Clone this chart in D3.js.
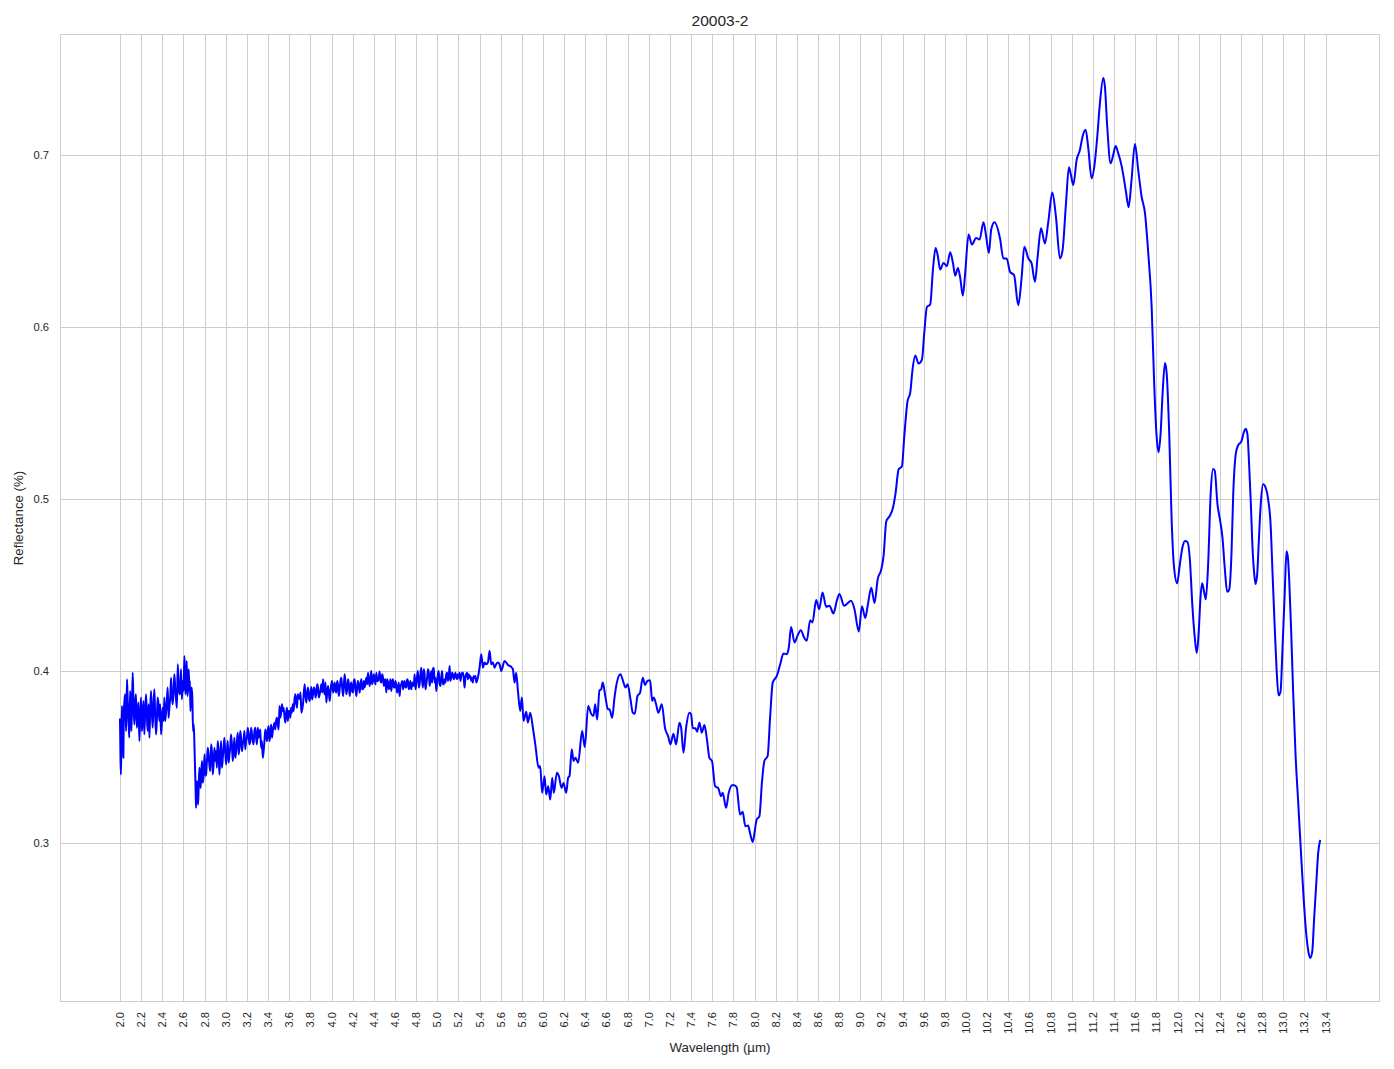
<!DOCTYPE html>
<html><head><meta charset="utf-8">
<script src="https://cdn.jsdelivr.net/npm/d3@7"></script>
<style>
body{margin:0;background:#fff}
text{font-family:"Liberation Sans",Arial,sans-serif;fill:#262626}
</style>
</head><body>
<svg id="chart" width="1394" height="1069"></svg>
<script>
const chartTitle = "20003-2";
const xLabel = "Wavelength (µm)";
const yLabel = "Reflectance (%)";
const xTicks = [2.0,2.2,2.4,2.6,2.8,3.0,3.2,3.4,3.6,3.8,4.0,4.2,4.4,4.6,4.8,5.0,5.2,5.4,5.6,5.8,6.0,6.2,6.4,6.6,6.8,7.0,7.2,7.4,7.6,7.8,8.0,8.2,8.4,8.6,8.8,9.0,9.2,9.4,9.6,9.8,10.0,10.2,10.4,10.6,10.8,11.0,11.2,11.4,11.6,11.8,12.0,12.2,12.4,12.6,12.8,13.0,13.2,13.4];
const yTicks = [0.3,0.4,0.5,0.6,0.7];

// [wavelength µm, reflectance]
const spectrumNoisyA = [
[2.000,0.3718],[2.005,0.3476],[2.009,0.3398],[2.019,0.3796],[2.032,0.3495],[2.041,0.3816],[2.057,0.3650],[2.066,0.3951],
[2.082,0.3690],[2.095,0.3883],[2.107,0.3650],[2.120,0.3990],[2.136,0.3689],[2.151,0.3864],[2.167,0.3748],[2.183,0.3592],
[2.199,0.3845],[2.215,0.3728],[2.230,0.3631],[2.246,0.3864],[2.262,0.3650],[2.278,0.3612],[2.293,0.3883],[2.309,0.3670],
[2.325,0.3893],[2.341,0.3631],[2.356,0.3845],[2.372,0.3709],[2.388,0.3631],[2.404,0.3786],[2.420,0.3845],[2.435,0.3757],
[2.451,0.3903],[2.467,0.3786],[2.483,0.3961],[2.498,0.3806],[2.514,0.3981],[2.530,0.3835],[2.546,0.4039],[2.562,0.3864],
[2.577,0.4010],[2.593,0.3942],[2.609,0.4087],[2.618,0.3864],[2.631,0.4058],[2.644,0.3903],[2.656,0.3883],[2.666,0.3767],
[2.678,0.3903],[2.691,0.3650],[2.703,0.3592],[2.713,0.3359],[2.719,0.3204],[2.729,0.3359],[2.738,0.3223],[2.751,0.3437],
[2.763,0.3320],[2.776,0.3476],[2.789,0.3379],[2.801,0.3515],[2.814,0.3398],[2.830,0.3553],[2.845,0.3456],[2.861,0.3573],
[2.877,0.3398],[2.893,0.3553],[2.909,0.3534],[2.924,0.3592],[2.940,0.3398],[2.956,0.3592],[2.972,0.3495],[2.987,0.3612],
[3.003,0.3456],[3.019,0.3592],[3.035,0.3515],[3.050,0.3631],[3.066,0.3476],[3.082,0.3612],[3.098,0.3534],[3.114,0.3641],
[3.129,0.3553],[3.145,0.3612],[3.161,0.3573],[3.177,0.3650],[3.192,0.3592],[3.208,0.3670],[3.224,0.3573],[3.240,0.3670],
[3.256,0.3592],[3.271,0.3650],[3.287,0.3612],[3.303,0.3670],[3.319,0.3631],[3.334,0.3553],[3.350,0.3495],[3.366,0.3592],
[3.382,0.3631],[3.397,0.3650],[3.413,0.3592],[3.429,0.3689],[3.445,0.3650],[3.461,0.3699],[3.476,0.3709],[3.492,0.3689],
[3.508,0.3796],[3.524,0.3757],[3.539,0.3767],[3.555,0.3738],[3.571,0.3748],[3.587,0.3709],[3.603,0.3767],[3.618,0.3786],
[3.634,0.3806],[3.650,0.3835],[3.666,0.3816],[3.681,0.3864]
];
// extra in-between samples of the noisy band, 2.0–3.7 µm
const spectrumNoisyAFine = [
[2.014,0.3612],[2.025,0.3650],[2.036,0.3757],[2.049,0.3864],[2.061,0.3738],[2.074,0.3806],[2.088,0.3612],[2.101,0.3835],
[2.113,0.3767],[2.128,0.3796],[2.143,0.3816],[2.159,0.3670],[2.175,0.3816],[2.191,0.3728],[2.207,0.3650],[2.222,0.3825],
[2.238,0.3767],[2.254,0.3738],[2.270,0.3806],[2.285,0.3748],[2.301,0.3767],[2.317,0.3806],[2.333,0.3738],[2.348,0.3709],
[2.364,0.3806],[2.380,0.3806],[2.396,0.3699],[2.412,0.3709],[2.427,0.3709],[2.443,0.3825],[2.459,0.3728],[2.475,0.3845],
[2.490,0.3864],[2.506,0.3874],[2.522,0.3903],[2.538,0.3786],[2.554,0.3932],[2.569,0.3883],[2.585,0.3835],[2.601,0.3883],
[2.614,0.3990],[2.625,0.3922],[2.637,0.3854],[2.650,0.4010],[2.661,0.3942],[2.672,0.3864],[2.684,0.3845],[2.697,0.3690],
[2.708,0.3470],[2.716,0.3280],[2.724,0.3330],[2.733,0.3300],[2.744,0.3320],[2.757,0.3380],[2.769,0.3418],[2.782,0.3350],
[2.795,0.3460],[2.807,0.3390],[2.822,0.3476],[2.837,0.3515],[2.853,0.3418],[2.869,0.3534],[2.885,0.3456],[2.901,0.3476],
[2.916,0.3437],[2.932,0.3534],[2.948,0.3495],[2.964,0.3437],[2.980,0.3553],[2.995,0.3534],[3.011,0.3524],[3.027,0.3466],
[3.042,0.3553],[3.058,0.3573],[3.074,0.3534],[3.090,0.3495],[3.106,0.3592],[3.121,0.3515],[3.137,0.3650],[3.153,0.3534],
[3.169,0.3602],[3.184,0.3544],[3.200,0.3612],[3.216,0.3631],[3.232,0.3592],[3.248,0.3631],[3.263,0.3573],[3.279,0.3670],
[3.295,0.3573],[3.311,0.3612],[3.326,0.3660],[3.342,0.3592],[3.358,0.3534],[3.374,0.3660],[3.390,0.3592],[3.405,0.3680],
[3.421,0.3631],[3.437,0.3612],[3.453,0.3680],[3.468,0.3660],[3.484,0.3728],[3.500,0.3660],[3.516,0.3728],[3.531,0.3806],
[3.547,0.3786],[3.563,0.3699],[3.579,0.3786],[3.595,0.3767],[3.611,0.3728],[3.626,0.3757],[3.642,0.3767],[3.658,0.3864],
[3.674,0.3786]
];

const spectrumNoisyB = [
[3.699,0.3835],[3.715,0.3757],[3.746,0.3922],[3.762,0.3816],[3.778,0.3903],[3.794,0.3825],[3.809,0.3907],[3.825,0.3864],
[3.841,0.3893],[3.857,0.3874],[3.872,0.3903],[3.888,0.3864],[3.904,0.3922],[3.920,0.3951],[3.935,0.3864],[3.951,0.3816],
[3.967,0.3913],[3.983,0.3825],[3.998,0.3922],[4.014,0.3874],[4.030,0.3932],[4.046,0.3874],[4.061,0.3922],[4.077,0.3893],
[4.093,0.3961],[4.109,0.3854],[4.124,0.3981],[4.140,0.3864],[4.156,0.3951],[4.172,0.3854],[4.187,0.3932],[4.203,0.3874],
[4.219,0.3951],[4.235,0.3854],[4.250,0.3942],[4.266,0.3874],[4.282,0.3951],[4.298,0.3893],[4.313,0.3903],[4.329,0.3961],
[4.345,0.3990],[4.361,0.3913],[4.376,0.4000],[4.392,0.3942],[4.408,0.3951],[4.424,0.3990],[4.439,0.3942],[4.455,0.3996],
[4.471,0.3932],[4.487,0.3961],[4.502,0.3942],[4.518,0.3874],[4.534,0.3932],[4.550,0.3922],[4.565,0.3883],[4.581,0.3951],
[4.597,0.3903],[4.613,0.3913],[4.628,0.3893],[4.644,0.3854],[4.660,0.3922],[4.676,0.3893],[4.691,0.3942],[4.707,0.3903],
[4.723,0.3942],[4.739,0.3913],[4.754,0.3893],[4.770,0.3932],[4.786,0.3981],[4.802,0.3932],[4.817,0.4000],[4.833,0.3922],
[4.849,0.4019],[4.865,0.3903],[4.880,0.3981],[4.896,0.3922],[4.912,0.4010],[4.928,0.3913],[4.943,0.4000],[4.959,0.4010],
[4.975,0.3932],[4.991,0.3883],[5.006,0.3981],[5.022,0.3922],[5.038,0.3961],[5.054,0.3922],[5.069,0.3951],[5.085,0.3981],
[5.101,0.3942],[5.117,0.4029],[5.132,0.3961],[5.148,0.3981],[5.164,0.3971],[5.180,0.3961],[5.195,0.3981],[5.211,0.3990],
[5.227,0.3971],[5.243,0.3990],[5.258,0.3903],[5.274,0.3981],[5.290,0.3951],[5.306,0.3961],[5.321,0.3942],[5.337,0.3932],
[5.353,0.3961],[5.369,0.3932],[5.384,0.3961],[5.400,0.4019],[5.416,0.4097],[5.432,0.4019],[5.447,0.4049],[5.463,0.4039],
[5.479,0.4049],[5.495,0.4117],[5.510,0.4039],[5.526,0.4049],[5.542,0.4019],[5.557,0.4039],[5.573,0.4049],[5.589,0.4039]
];
// extra in-between samples of the noisy band, 3.7–5.4 µm
const spectrumNoisyBFine = [
[3.707,0.3874],[3.730,0.3806],[3.754,0.3854],[3.770,0.3874],[3.786,0.3845],[3.802,0.3874],[3.817,0.3835],[3.833,0.3903],
[3.849,0.3845],[3.865,0.3922],[3.880,0.3845],[3.896,0.3893],[3.912,0.3874],[3.928,0.3893],[3.943,0.3932],[3.959,0.3874],
[3.975,0.3874],[3.991,0.3883],[4.006,0.3942],[4.022,0.3893],[4.038,0.3883],[4.053,0.3942],[4.069,0.3854],[4.085,0.3942],
[4.101,0.3903],[4.116,0.3903],[4.132,0.3932],[4.148,0.3893],[4.164,0.3922],[4.180,0.3913],[4.195,0.3883],[4.211,0.3942],
[4.227,0.3893],[4.242,0.3903],[4.258,0.3913],[4.274,0.3922],[4.290,0.3893],[4.306,0.3942],[4.321,0.3932],[4.337,0.3922],
[4.353,0.3942],[4.369,0.3961],[4.384,0.3922],[4.400,0.3981],[4.416,0.3922],[4.432,0.3942],[4.447,0.3961],[4.463,0.3942],
[4.479,0.3981],[4.495,0.3913],[4.510,0.3951],[4.526,0.3951],[4.542,0.3893],[4.558,0.3951],[4.573,0.3932],[4.589,0.3903],
[4.605,0.3942],[4.620,0.3874],[4.636,0.3932],[4.652,0.3913],[4.668,0.3942],[4.684,0.3932],[4.699,0.3903],[4.715,0.3951],
[4.731,0.3893],[4.746,0.3942],[4.762,0.3922],[4.778,0.3913],[4.794,0.3893],[4.810,0.3971],[4.825,0.3903],[4.841,0.3981],
[4.857,0.3942],[4.872,0.4010],[4.888,0.3893],[4.904,0.3961],[4.920,0.3990],[4.935,0.3942],[4.951,0.3932],[4.967,0.4019],
[4.983,0.3961],[4.998,0.3932],[5.014,0.4000],[5.030,0.3913],[5.046,0.4000],[5.061,0.3922],[5.077,0.3932],[5.093,0.3990],
[5.109,0.3971],[5.124,0.3942],[5.140,0.3990],[5.156,0.3951],[5.172,0.3990],[5.187,0.3951],[5.203,0.3961],[5.219,0.3942],
[5.235,0.3990],[5.250,0.3961],[5.266,0.3961],[5.282,0.3990],[5.298,0.3981],[5.313,0.3971],[5.329,0.3961],[5.345,0.3971],
[5.361,0.3971],[5.376,0.3942]
];

const spectrumMid = [
[5.605,0.4000],[5.636,0.4058],[5.668,0.4035],[5.700,0.4023],[5.715,0.4010],[5.731,0.3932],[5.746,0.3990],[5.762,0.3890],
[5.784,0.3767],[5.800,0.3845],[5.816,0.3710],[5.841,0.3763],[5.857,0.3700],[5.879,0.3757],[5.904,0.3670],[5.929,0.3563],
[5.958,0.3437],[5.973,0.3447],[5.992,0.3291],[6.014,0.3388],[6.030,0.3282],[6.049,0.3330],[6.068,0.3252],[6.087,0.3379],
[6.102,0.3291],[6.131,0.3408],[6.150,0.3388],[6.175,0.3320],[6.194,0.3349],[6.219,0.3291],[6.238,0.3379],[6.250,0.3388],
[6.272,0.3544],[6.288,0.3476],[6.307,0.3495],[6.332,0.3466],[6.370,0.3650],[6.395,0.3557],[6.427,0.3796],[6.455,0.3751],
[6.477,0.3738],[6.493,0.3806],[6.512,0.3718],[6.534,0.3887],[6.550,0.3893],[6.565,0.3932],[6.591,0.3845],[6.613,0.3777],
[6.628,0.3777],[6.654,0.3728],[6.676,0.3845],[6.698,0.3932],[6.732,0.3981],[6.761,0.3932],[6.780,0.3903],[6.800,0.3922],
[6.827,0.3835],[6.849,0.3757],[6.868,0.3751],[6.893,0.3854],[6.918,0.3874],[6.943,0.3961],[6.965,0.3918],[6.987,0.3942],
[7.013,0.3946],[7.032,0.3825],[7.047,0.3845],[7.069,0.3806],[7.091,0.3757],[7.123,0.3806],[7.154,0.3666],[7.183,0.3621],
[7.205,0.3573],[7.233,0.3635],[7.258,0.3573],[7.290,0.3699],[7.306,0.3670],[7.328,0.3524],[7.353,0.3670],[7.384,0.3757],
[7.400,0.3748],[7.416,0.3666],[7.441,0.3666],[7.457,0.3647],[7.479,0.3699],[7.501,0.3641],[7.526,0.3685],[7.548,0.3612],
[7.573,0.3495],[7.598,0.3476],[7.627,0.3330],[7.658,0.3317],[7.683,0.3272],[7.699,0.3291],[7.731,0.3204],[7.756,0.3291],
[7.787,0.3336],[7.809,0.3336],[7.831,0.3324],[7.863,0.3165],[7.888,0.3181],[7.913,0.3097],[7.939,0.3101],[7.957,0.3058],
[7.983,0.3006],[8.002,0.3068],[8.020,0.3136],[8.046,0.3155],[8.071,0.3359],[8.093,0.3476],[8.124,0.3505],[8.147,0.3728],
[8.172,0.3932],[8.211,0.3971],[8.243,0.4039],[8.274,0.4101],[8.306,0.4097],[8.324,0.4136],[8.346,0.4256],[8.378,0.4165],
[8.406,0.4204],[8.438,0.4237],[8.469,0.4194],[8.494,0.4175],[8.526,0.4295],[8.548,0.4282],[8.583,0.4412],[8.611,0.4359],
[8.643,0.4456],[8.677,0.4373],[8.709,0.4379],[8.746,0.4334],[8.778,0.4408],[8.803,0.4447],[8.847,0.4379],[8.913,0.4408],
[8.945,0.4359],[8.986,0.4229]
];

const spectrumHigh = [
[9.016,0.4376],[9.047,0.4308],[9.069,0.4376],[9.104,0.4483],[9.135,0.4395],[9.164,0.4531],[9.198,0.4589],[9.220,0.4667],
[9.246,0.4870],[9.277,0.4899],[9.309,0.4948],[9.334,0.5035],[9.362,0.5171],[9.394,0.5190],[9.416,0.5364],[9.447,0.5568],
[9.472,0.5616],[9.494,0.5752],[9.520,0.5833],[9.551,0.5787],[9.583,0.5810],[9.605,0.5965],[9.630,0.6116],[9.661,0.6130],
[9.687,0.6333],[9.712,0.6459],[9.731,0.6420],[9.756,0.6333],[9.787,0.6372],[9.819,0.6353],[9.850,0.6434],[9.876,0.6372],
[9.898,0.6298],[9.923,0.6343],[9.945,0.6285],[9.970,0.6182],[9.992,0.6314],[10.024,0.6537],[10.055,0.6479],[10.096,0.6517],
[10.128,0.6508],[10.165,0.6609],[10.190,0.6527],[10.216,0.6430],[10.238,0.6566],[10.269,0.6609],[10.321,0.6515],[10.353,0.6398],
[10.384,0.6398],[10.416,0.6320],[10.454,0.6301],[10.494,0.6126],[10.526,0.6291],[10.551,0.6466],[10.589,0.6398],[10.620,0.6369],
[10.652,0.6262],[10.677,0.6408],[10.709,0.6573],[10.746,0.6485],[10.778,0.6612],[10.816,0.6781],[10.850,0.6641],[10.888,0.6398],
[10.913,0.6447],[10.945,0.6718],[10.973,0.6928],[10.992,0.6883],[11.014,0.6825],[11.046,0.6971],[11.077,0.7029],[11.102,0.7107],
[11.131,0.7146],[11.156,0.7039],[11.187,0.6864],[11.213,0.6932],[11.241,0.7107],[11.266,0.7301],[11.298,0.7447],[11.313,0.7398],
[11.335,0.7165],[11.367,0.6951],[11.392,0.7000],[11.414,0.7052],[11.439,0.7010],[11.471,0.6936],[11.512,0.6787],[11.537,0.6696],
[11.565,0.6855],[11.597,0.7064],[11.628,0.6913],[11.660,0.6758],[11.692,0.6661],[11.723,0.6429],[11.755,0.6119],[11.780,0.5654],
[11.802,0.5364],[11.821,0.5271],[11.840,0.5383],[11.859,0.5616],[11.881,0.5790],[11.897,0.5732],[11.922,0.5364],[11.944,0.4880],
[11.966,0.4609],[11.996,0.4509],[12.021,0.4616],[12.046,0.4717],[12.071,0.4755],[12.093,0.4750],[12.115,0.4661],[12.141,0.4371],
[12.163,0.4193],[12.182,0.4104],[12.201,0.4237],[12.216,0.4416],[12.232,0.4509],[12.251,0.4460],[12.267,0.4416],[12.289,0.4616],
[12.314,0.5040],[12.336,0.5174],[12.352,0.5163],[12.377,0.4973],[12.406,0.4862],[12.425,0.4773],[12.447,0.4594],[12.469,0.4460],
[12.488,0.4472],[12.510,0.4683],[12.526,0.5018],[12.551,0.5263],[12.573,0.5312],[12.604,0.5334],[12.626,0.5386],[12.645,0.5408],
[12.661,0.5375],[12.677,0.5196],[12.693,0.4973],[12.708,0.4728],[12.724,0.4572],[12.737,0.4505],[12.753,0.4561],[12.768,0.4750],
[12.787,0.4973],[12.809,0.5085],[12.835,0.5062],[12.857,0.4996],[12.879,0.4862],[12.898,0.4572],[12.917,0.4282],[12.936,0.4015],
[12.955,0.3858],[12.974,0.3881],[12.992,0.4126],[13.014,0.4460],[13.030,0.4695],[13.043,0.4661],[13.056,0.4527],[13.074,0.4237],
[13.093,0.3881],[13.115,0.3524],[13.141,0.3234],[13.163,0.2989],[13.188,0.2721],[13.213,0.2498],[13.238,0.2365],[13.254,0.2331],
[13.273,0.2365],[13.292,0.2565],[13.314,0.2788],[13.330,0.2944],[13.347,0.3011]
];

const lineColor = "#0000ff";

const svg = d3.select("#chart");
const plot = {left:60, top:34, right:1380, bottom:1002};
const data = [].concat(spectrumNoisyA, spectrumNoisyAFine, spectrumNoisyB, spectrumNoisyBFine, spectrumMid, spectrumHigh)
  .map(([w,r]) => ({w, r}))
  .sort((a,b) => d3.ascending(a.w, b.w));

const xExt = d3.extent(data, d => d.w), yExt = d3.extent(data, d => d.r);
const xPad = (xExt[1]-xExt[0])*0.05, yPad = (yExt[1]-yExt[0])*0.05;
const x = d3.scaleLinear().domain([xExt[0]-xPad, xExt[1]+xPad]).range([plot.left, plot.right]);
const y = d3.scaleLinear().domain([yExt[0]-yPad, yExt[1]+yPad]).range([plot.bottom, plot.top]);

svg.append("rect").attr("width",1394).attr("height",1069).attr("fill","#fff");

const crisp = v => Math.round(v) + 0.5;
const grid = svg.append("g").attr("stroke","#cccccc").attr("stroke-width",1.1).attr("shape-rendering","crispEdges");
grid.selectAll("line.v").data(xTicks).join("line").attr("class","v")
  .attr("x1", d=>crisp(x(d))).attr("x2", d=>crisp(x(d))).attr("y1", plot.top).attr("y2", plot.bottom);
grid.selectAll("line.h").data(yTicks).join("line").attr("class","h")
  .attr("y1", d=>crisp(y(d))).attr("y2", d=>crisp(y(d))).attr("x1", plot.left).attr("x2", plot.right);
svg.append("rect").attr("x", plot.left+0.5).attr("y", plot.top+0.5)
  .attr("width", plot.right-plot.left-1).attr("height", plot.bottom-plot.top-1)
  .attr("fill","none").attr("stroke","#cccccc").attr("stroke-width",1.1).attr("shape-rendering","crispEdges");

svg.append("g").selectAll("text").data(xTicks).join("text")
  .attr("transform", d => `translate(${x(d)},${plot.bottom+10}) rotate(-90)`)
  .attr("text-anchor","end").attr("dominant-baseline","central")
  .attr("font-size", 11.2).text(d => d3.format(".1f")(d));

svg.append("g").selectAll("text").data(yTicks).join("text")
  .attr("x", plot.left-11).attr("y", d => y(d))
  .attr("text-anchor","end").attr("dominant-baseline","central")
  .attr("font-size", 11.2).text(d => d3.format(".1f")(d));

svg.append("clipPath").attr("id","clip").append("rect")
  .attr("x",plot.left).attr("y",plot.top).attr("width",plot.right-plot.left).attr("height",plot.bottom-plot.top);
const line = d3.line().x(d => x(d.w)).y(d => y(d.r)).curve(d3.curveMonotoneX);
svg.append("path").datum(data).attr("clip-path","url(#clip)")
  .attr("d", line).attr("fill","none").attr("stroke", lineColor)
  .attr("stroke-width", 2).attr("stroke-linejoin","round").attr("stroke-linecap","square");

svg.append("text").attr("x", (plot.left+plot.right)/2).attr("y", 26)
  .attr("text-anchor","middle").attr("font-size", 15.5).text(chartTitle);
svg.append("text").attr("x", (plot.left+plot.right)/2).attr("y", 1052)
  .attr("text-anchor","middle").attr("font-size", 13.3).text(xLabel);
svg.append("text").attr("transform", `translate(23,${(plot.top+plot.bottom)/2}) rotate(-90)`)
  .attr("text-anchor","middle").attr("font-size", 13.3).text(yLabel);
</script>
</body></html>
